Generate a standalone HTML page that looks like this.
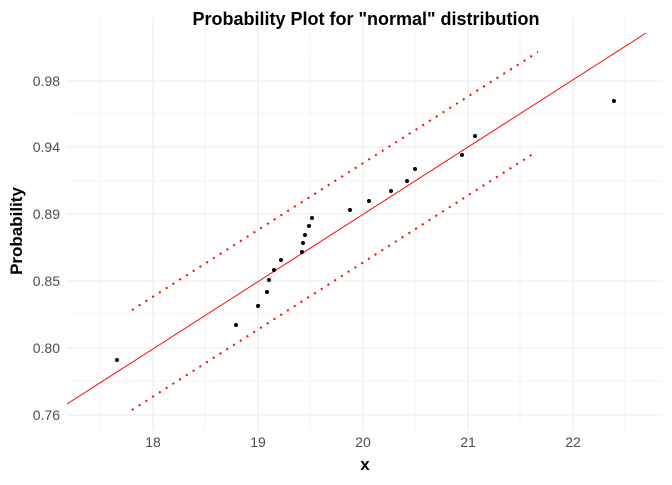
<!DOCTYPE html><html><head><style>body{margin:0;background:#fff}</style></head><body>
<svg width="672" height="480" xmlns="http://www.w3.org/2000/svg" font-family="Liberation Sans, sans-serif">
<g stroke="#ebebeb" stroke-width="0.6">
<line x1="67" x2="663" y1="48" y2="48"/><line x1="67" x2="663" y1="114" y2="114"/><line x1="67" x2="663" y1="181" y2="181"/><line x1="67" x2="663" y1="248" y2="248"/><line x1="67" x2="663" y1="314" y2="314"/><line x1="67" x2="663" y1="381" y2="381"/>
<line y1="17" y2="430" x1="100" x2="100"/><line y1="17" y2="430" x1="205" x2="205"/><line y1="17" y2="430" x1="310" x2="310"/><line y1="17" y2="430" x1="415" x2="415"/><line y1="17" y2="430" x1="520" x2="520"/><line y1="17" y2="430" x1="625" x2="625"/>
</g>
<g stroke="#ebebeb" stroke-width="1.1">
<line x1="67" x2="663" y1="81" y2="81"/><line x1="67" x2="663" y1="147" y2="147"/><line x1="67" x2="663" y1="214" y2="214"/><line x1="67" x2="663" y1="281" y2="281"/><line x1="67" x2="663" y1="348" y2="348"/><line x1="67" x2="663" y1="415" y2="415"/>
<line y1="17" y2="430" x1="153" x2="153"/><line y1="17" y2="430" x1="258" x2="258"/><line y1="17" y2="430" x1="363" x2="363"/><line y1="17" y2="430" x1="468" x2="468"/><line y1="17" y2="430" x1="573" x2="573"/>
</g>
<line x1="67" y1="404" x2="646" y2="33" stroke="red" stroke-width="1"/>
<line x1="132" y1="310" x2="538" y2="52" stroke="red" stroke-width="2" stroke-dasharray="2 6"/>
<line x1="132" y1="410" x2="536" y2="152" stroke="red" stroke-width="2" stroke-dasharray="2 6"/>
<g fill="#000">
<circle cx="117" cy="360" r="2"/><circle cx="236" cy="325" r="2"/><circle cx="258" cy="306" r="2"/><circle cx="267" cy="292" r="2"/><circle cx="269" cy="280" r="2"/><circle cx="274" cy="270" r="2"/><circle cx="281" cy="260" r="2"/><circle cx="302" cy="252" r="2"/><circle cx="303" cy="243" r="2"/><circle cx="305" cy="235" r="2"/><circle cx="309" cy="226" r="2"/><circle cx="312" cy="218" r="2"/><circle cx="350" cy="210" r="2"/><circle cx="369" cy="201" r="2"/><circle cx="391" cy="191" r="2"/><circle cx="407" cy="181" r="2"/><circle cx="415" cy="169" r="2"/><circle cx="462" cy="155" r="2"/><circle cx="475" cy="136" r="2"/><circle cx="614" cy="101" r="2"/>
</g>
<g font-size="14" fill="#4d4d4d" text-anchor="end">
<text x="60" y="86">0.98</text><text x="60" y="152">0.94</text><text x="60" y="219">0.89</text><text x="60" y="286">0.85</text><text x="60" y="353">0.80</text><text x="60" y="420">0.76</text>
</g>
<g font-size="14" fill="#4d4d4d" text-anchor="middle">
<text x="153" y="447">18</text><text x="258" y="447">19</text><text x="363" y="447">20</text><text x="468" y="447">21</text><text x="573" y="447">22</text>
</g>
<text x="365" y="470" font-size="17" font-weight="bold" text-anchor="middle">x</text>
<text transform="translate(22,231) rotate(-90)" font-size="17" font-weight="bold" text-anchor="middle">Probability</text>
<text x="366" y="25" font-size="18" font-weight="bold" text-anchor="middle">Probability Plot for "normal" distribution</text>
</svg></body></html>
